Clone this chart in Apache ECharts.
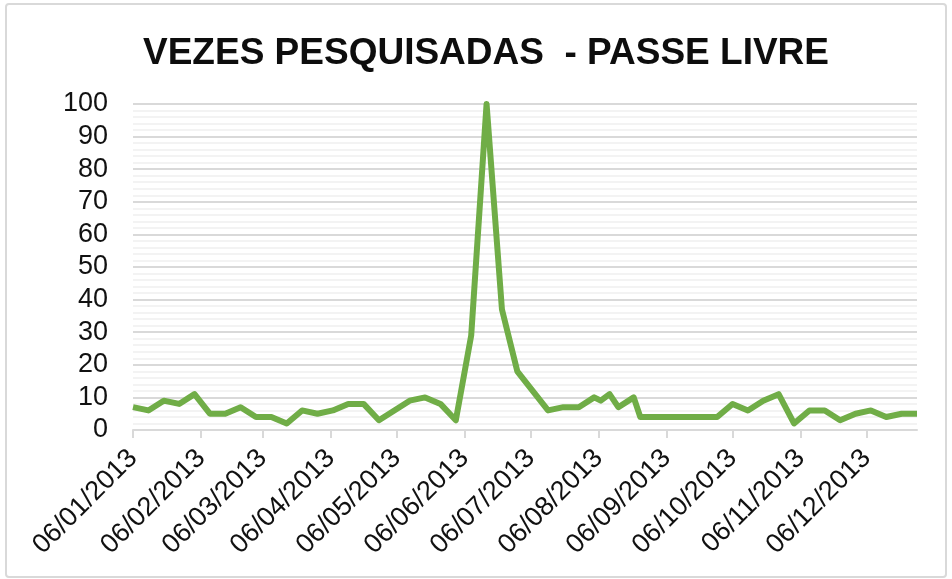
<!doctype html>
<html lang="pt">
<head>
    <meta charset="UTF-8">
    <title>Vezes pesquisadas - Passe Livre</title>
    <style>
        html, body { margin: 0; padding: 0; background: #fff; }
        #chart {
            position: absolute; left: 5px; top: 3px;
            width: 938px; height: 571px;
            border: 2px solid #d9d9d9; border-radius: 4px;
        }
    </style>
</head>
<body>
<div id="chart"></div>
<script src="https://cdn.jsdelivr.net/npm/echarts@6/dist/echarts.min.js"></script>
<script>
    // semanas (domingo) e alguns dias extras em agosto
    var datas = [
        '2013-01-06', '2013-01-13', '2013-01-20', '2013-01-27', '2013-02-03', '2013-02-10',
        '2013-02-17', '2013-02-24', '2013-03-03', '2013-03-10', '2013-03-17', '2013-03-24',
        '2013-03-31', '2013-04-07', '2013-04-14', '2013-04-21', '2013-04-28', '2013-05-05',
        '2013-05-12', '2013-05-19', '2013-05-26', '2013-06-02', '2013-06-09', '2013-06-16',
        '2013-06-23', '2013-06-30', '2013-07-07', '2013-07-14', '2013-07-21', '2013-07-28',
        '2013-08-04', '2013-08-07', '2013-08-11', '2013-08-15', '2013-08-22', '2013-08-25',
        '2013-09-01', '2013-09-08', '2013-09-15', '2013-09-22', '2013-09-29', '2013-10-06',
        '2013-10-13', '2013-10-20', '2013-10-27', '2013-11-03', '2013-11-10', '2013-11-17',
        '2013-11-24', '2013-12-01', '2013-12-08', '2013-12-15', '2013-12-22', '2013-12-29'
    ];
    var pesquisas = [
        7, 6, 9, 8, 11, 5,
        5, 7, 4, 4, 2, 6,
        5, 6, 8, 8, 3, 6,
        9, 10, 8, 3, 29, 100,
        37, 18, 12, 6, 7, 7,
        10, 9, 11, 7, 10, 4,
        4, 4, 4, 4, 4, 8,
        6, 9, 11, 2, 6, 6,
        3, 5, 6, 4, 5, 5
    ];
    // rótulos do eixo x: dia 6 de cada mês
    var rotulos = [
        '2013-01-06', '2013-02-06', '2013-03-06', '2013-04-06', '2013-05-06', '2013-06-06',
        '2013-07-06', '2013-08-06', '2013-09-06', '2013-10-06', '2013-11-06', '2013-12-06'
    ];
    var inicio = '2013-01-06';
    var fim = '2013-12-29';

    function toTime(s) {
        var p = s.split('-');
        return new Date(+p[0], +p[1] - 1, +p[2]).getTime();
    }
    function pad(n) {
        return n < 10 ? '0' + n : '' + n;
    }
    function fmt(t) {
        var d = new Date(t);
        return pad(d.getDate()) + '/' + pad(d.getMonth() + 1) + '/' + d.getFullYear();
    }

    var serie = [];
    for (var i = 0; i < datas.length; i++) {
        serie.push([toTime(datas[i]), pesquisas[i]]);
    }
    var marcas = rotulos.map(toTime);

    var myChart = echarts.init(document.getElementById('chart'));
    myChart.setOption({
        animation: false,
        title: {
            text: 'VEZES PESQUISADAS  - PASSE LIVRE',
            left: 131,
            top: 25,
            textStyle: {
                fontFamily: 'Liberation Sans',
                fontSize: 37,
                fontWeight: 'bold',
                color: '#0d0d0d'
            }
        },
        grid: {
            left: 126,
            right: 28,
            top: 99,
            bottom: 146
        },
        xAxis: {
            type: 'value',
            min: toTime(inicio),
            max: toTime(fim),
            axisLine: { show: true, lineStyle: { color: '#d9d9d9', width: 2 } },
            axisTick: {
                show: true,
                length: 8,
                customValues: marcas,
                lineStyle: { color: '#d9d9d9', width: 2 }
            },
            axisLabel: {
                customValues: marcas,
                rotate: 45,
                margin: 24,
                fontFamily: 'Liberation Sans',
                fontSize: 27,
                color: '#111',
                formatter: function (v) { return fmt(v); }
            },
            splitLine: { show: false }
        },
        yAxis: {
            type: 'value',
            min: 0,
            max: 100,
            interval: 10,
            axisLine: { show: false },
            axisTick: { show: false },
            axisLabel: {
                margin: 25,
                fontFamily: 'Liberation Sans',
                fontSize: 27,
                color: '#111'
            },
            splitLine: { lineStyle: { color: '#d9d9d9', width: 2 } },
            minorTick: { show: false, splitNumber: 5 },
            minorSplitLine: { show: true, lineStyle: { color: '#efefef', width: 1.5 } }
        },
        series: [{
            name: 'Pesquisas',
            type: 'line',
            data: serie,
            showSymbol: false,
            lineStyle: { color: '#70ad47', width: 6, join: 'round' },
            itemStyle: { color: '#70ad47' }
        }]
    });
</script>
</body>
</html>
